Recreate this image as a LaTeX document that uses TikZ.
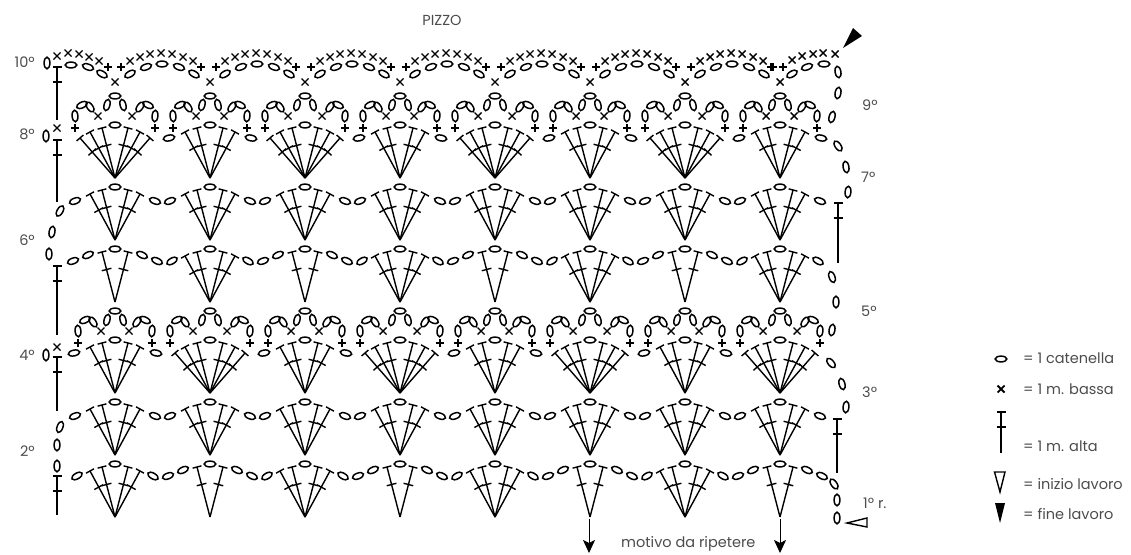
\documentclass[tikz,border=0pt]{standalone}
\usepackage{fontspec}
\setmainfont{Poppins}
\usetikzlibrary{calc,arrows.meta}

\tikzset{
    catena/.style={black, line width=1.5pt},
    maglia/.style={black, line width=1.4pt},
    testo/.style={black!70, font=\fontsize{14.5}{16}\selectfont, inner sep=0pt, anchor=west},
    freccia/.style={black, line width=0.8pt, -{Stealth[length=13pt, width=12pt, inset=3pt]}}
}

% one chain stitch: x, y, tilt
\newcommand{\catena}[3]{\draw[catena] ({#1},{#2}) ellipse [x radius=5.8pt, y radius=2.9pt, rotate=#3];}
% single crochet, as x and as +
\newcommand{\bassa}[2]{
    \coordinate (qui) at ({#1},{#2});
    \draw[maglia] ($(qui)+(-3.5,-3.5)$) -- ($(qui)+(3.5,3.5)$);
    \draw[maglia] ($(qui)+(-3.5,3.5)$) -- ($(qui)+(3.5,-3.5)$);
}
\newcommand{\piu}[2]{
    \coordinate (qui) at ({#1},{#2});
    \draw[maglia] ($(qui)+(-4,0)$) -- ($(qui)+(4,0)$);
    \draw[maglia] ($(qui)+(0,-4)$) -- ($(qui)+(0,4)$);
}
% upright treble on the sides: x, top, bottom
\newcommand{\alta}[3]{
    \coordinate (qui) at (#1,#2);
    \draw[maglia] (qui) -- (#1,#3);
    \draw[maglia] ($(qui)+(-4.5,0)$) -- ($(qui)+(4.5,0)$);
    \draw[maglia] ($(qui)+(-4.5,15)$) -- ($(qui)+(4.5,15)$);
}
% one pair of trebles of a fan: apex x, apex y, dx, dy
\newcommand{\coppia}[4]{
    \coordinate (apice) at (#1,#2);
    \foreach \s in {-1,1} {
        \coordinate (punta) at ($(apice)+(\s*#3,-#4)$);
        \coordinate (croce) at ($(punta)!.35!(apice)$);
        \draw[maglia] (apice) -- (punta);
        \draw[maglia] ($(punta)!4.5pt!90:(apice)$) -- ($(punta)!4.5pt!-90:(apice)$);
        \draw[maglia] ($(croce)!5pt!90:(apice)$) -- ($(croce)!5pt!-90:(apice)$);
    }
}
\newcommand{\ventaglioDue}[2]{\coppia{#1}{#2}{13}{50}\catena{#1}{#2-53}{0}}
\newcommand{\ventaglioQuattro}[2]{\ventaglioDue{#1}{#2}\coppia{#1}{#2}{25}{46}}
\newcommand{\ventaglioSei}[2]{\ventaglioQuattro{#1}{#2}\coppia{#1}{#2}{35}{40}}
% small arches over a fan: x, y of the top stitch, half width
\newcommand{\archi}[3]{
    \catena{#1}{#2}{0}
    \catena{#1-8}{#2+9}{75}
    \catena{#1+8}{#2+9}{-75}
    \foreach \s in {-1,1} {
        \bassa{#1+\s*(#3-23)}{#2+20}
        \catena{#1+\s*(#3-7)}{#2+9}{-\s*25}
        \catena{#1+\s*(#3-15)}{#2+11}{\s*55}
        \catena{#1+\s*#3}{#2+20}{\s*85}
        \piu{#1+\s*#3}{#2+32}
    }
}
% four rows of the chart: vertical shift, parity
\newcommand{\modulo}[2]{
    \foreach \i in {0,...,7} {
        \pgfmathsetmacro{\cx}{115+95*\i}
        \pgfmathtruncatemacro{\q}{\i+#2}
        \ventaglioQuattro{\cx}{240+#1}
        \catena{\cx-40}{201+#1}{20}
        \catena{\cx+40}{201+#1}{-20}
        \ifodd\q
            \ventaglioDue{\cx}{302+#1}
            \catena{\cx-42}{261+#1}{20}
            \catena{\cx-27}{255+#1}{25}
            \catena{\cx+27}{255+#1}{-25}
            \catena{\cx+42}{261+#1}{-25}
            \ventaglioSei{\cx}{178+#1}
            \archi{\cx}{96+#1}{40}
        \else
            \ventaglioQuattro{\cx}{302+#1}
            \catena{\cx-38}{261+#1}{30}
            \catena{\cx+38}{261+#1}{-30}
            \ventaglioQuattro{\cx}{178+#1}
            \archi{\cx}{96+#1}{37}
            \catena{\cx-41}{138+#1}{12}
            \catena{\cx+41}{138+#1}{-12}
        \fi
    }
}

\begin{document}
\begin{tikzpicture}[x=1pt, y=-1pt]
    \useasboundingbox (0,0) rectangle (1131,554);

    \modulo{0}{1}
    \modulo{215}{0}

    % last two rows
    \foreach \i in {0,...,7} {
        \pgfmathsetmacro{\cx}{115+95*\i}
        \bassa{\cx}{82}
    }
    \foreach \i in {0,...,6} {
        \pgfmathsetmacro{\cx}{115+95*\i}
        \catena{\cx+15}{74}{30}
        \catena{\cx+31}{67}{20}
        \catena{\cx+47}{64}{0}
        \catena{\cx+64}{67}{-20}
        \catena{\cx+79}{74}{-30}
        \piu{\cx+6}{67}
        \foreach \dx/\yy in {15/61,25/57,35/54,46/53,57/54,68/57,78/61} {
            \bassa{\cx+\dx}{\yy}
        }
        \piu{\cx+86}{67}
    }
    \catena{71}{65}{0}
    \catena{88}{67}{-20}
    \catena{102}{74}{-30}
    \foreach \xx/\yy in {57/56,68/53,79/54,89/57,99/61} {
        \bassa{\xx}{\yy}
    }
    \piu{108}{67}
    \catena{792}{74}{30}
    \catena{807}{67}{20}
    \catena{824}{64}{0}
    \piu{773}{67}
    \piu{783}{67}
    \foreach \xx/\yy in {792/60,802/56,813/54,823/53,835/54} {
        \bassa{\xx}{\yy}
    }

    % left edge
    \catena{47}{63}{90}
    \alta{57}{67}{120}
    \bassa{57}{128}
    \catena{46}{136}{90}
    \alta{57}{140}{202}
    \catena{60}{211}{60}
    \catena{52}{232}{80}
    \catena{49}{254}{90}
    \alta{57}{266}{335}
    \bassa{57}{347}
    \catena{46}{355}{90}
    \alta{57}{357}{411}
    \catena{60}{427}{70}
    \catena{57}{445}{90}
    \catena{57}{466}{90}
    \alta{57}{476}{515}

    % right edge
    \catena{838}{72}{-80}
    \catena{838}{93}{80}
    \catena{832}{117}{75}
    \catena{838}{146}{-55}
    \catena{846}{167}{-80}
    \catena{848}{192}{85}
    \alta{838}{203}{263}
    \catena{832}{277}{-70}
    \catena{836}{302}{90}
    \catena{832}{330}{80}
    \catena{831}{363}{-50}
    \catena{842}{384}{-75}
    \catena{846}{407}{85}
    \alta{837}{419}{473}
    \catena{834}{484}{-55}
    \catena{837}{500}{90}
    \catena{837}{518}{90}

    % start and end marks
    \path[fill = black] (843,48) -- (853,28) -- (862,36) -- cycle;
    \draw[maglia] (847,523) -- (867,518) -- (867,527) -- cycle;

    % labels
    \node[testo, anchor=center] (titolo) at (442,20) {PIZZO};
    \node[testo, anchor=east] (riga10) at (35,62) {10º};
    \node[testo, anchor=east] (riga8) at (35,134) {8º};
    \node[testo, anchor=east] (riga6) at (35,240) {6º};
    \node[testo, anchor=east] (riga4) at (35,355) {4º};
    \node[testo, anchor=east] (riga2) at (35,451) {2º};
    \node[testo] (riga9) at (862,105) {9º};
    \node[testo] (riga7) at (861,177) {7º};
    \node[testo] (riga5) at (861,311) {5º};
    \node[testo] (riga3) at (862,392) {3º};
    \node[testo] (riga1) at (863,503) {1º r.};

    % repeat
    \coordinate (motivoA) at (589,519);
    \coordinate (motivoAfine) at (589,553);
    \coordinate (motivoB) at (780,519);
    \coordinate (motivoBfine) at (780,553);
    \draw[freccia] (motivoA) -- (motivoAfine);
    \draw[freccia] (motivoB) -- (motivoBfine);
    \node[testo] (motivo) at (621,544) {motivo da ripetere};

    % legend
    \catena{1001}{359}{0}
    \node[testo] (leg1) at (1023,358) {= 1 catenella};
    \draw[black, line width=1.8pt] (997.5,385.5) -- (1004.5,392.5) (997.5,392.5) -- (1004.5,385.5);
    \node[testo] (leg2) at (1023,389) {= 1 m. bassa};
    \alta{1001}{412}{453}
    \node[testo] (leg3) at (1023,446) {= 1 m. alta};
    \draw[maglia] (994.5,472) -- (1005,472) -- (1000,492) -- cycle;
    \node[testo] (leg4) at (1023,484) {= inizio lavoro};
    \path[fill = black] (995,503) -- (1005,503) -- (1000,523) -- cycle;
    \node[testo] (leg5) at (1023,514) {= fine lavoro};
\end{tikzpicture}
\end{document}
